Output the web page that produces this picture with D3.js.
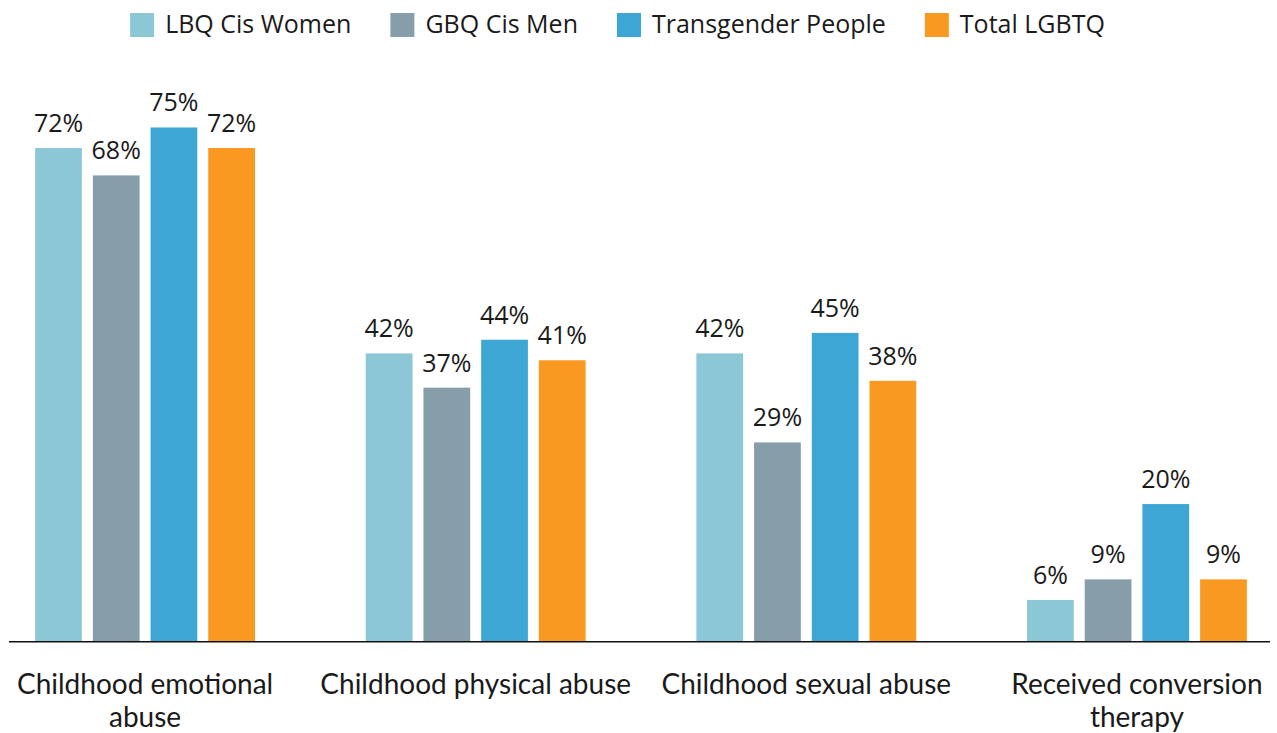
<!DOCTYPE html>
<html>
<head>
<meta charset="utf-8">
<script src="https://cdn.jsdelivr.net/npm/d3@7"></script>
<style>
  html, body { margin: 0; padding: 0; background: #fff; }
  svg { display: block; }
</style>
</head>
<body>
<svg id="chart" width="1277" height="733"></svg>
<script>
// Experiences reported, by group (percent)
const categories = [
  ["Childhood emotional", "abuse"],
  ["Childhood physical abuse"],
  ["Childhood sexual abuse"],
  ["Received conversion", "therapy"]
];
const seriesNames = ["LBQ Cis Women", "GBQ Cis Men", "Transgender People", "Total LGBTQ"];
const lbqCisWomen = [72, 42, 42, 6];
const gbqCisMen = [68, 37, 29, 9];
const transgenderPeople = [75, 44, 45, 20];
const totalLGBTQ = [72, 41, 38, 9];
const seriesColors = ["#8cc7d5", "#869daa", "#3da6d5", "#f99922"];

const seriesValues = [lbqCisWomen, gbqCisMen, transgenderPeople, totalLGBTQ];
const catKeys = categories.map(c => c.join(" "));

const svg = d3.select("#chart");
const baseY = 641;

const x0 = d3.scaleBand()
  .domain(catKeys)
  .range([11, 1271])
  .paddingInner(0.335)
  .paddingOuter(0.073);

const x1 = d3.scaleBand()
  .domain(seriesNames)
  .range([0, x0.bandwidth()])
  .paddingInner(0.19)
  .paddingOuter(0);

const y = d3.scaleLinear()
  .domain([0, 80])
  .range([baseY, baseY - 80 * 6.847]);

const color = d3.scaleOrdinal().domain(seriesNames).range(seriesColors);

// Bars and value labels
const groups = svg.selectAll("g.group")
  .data(catKeys)
  .join("g")
  .attr("class", "group")
  .attr("transform", d => `translate(${x0(d)},0)`);

groups.each(function(cat, ci) {
  const g = d3.select(this);
  const rows = seriesNames.map((s, si) => ({ s, v: seriesValues[si][ci] }));
  g.selectAll("rect")
    .data(rows)
    .join("rect")
    .attr("x", d => x1(d.s))
    .attr("y", d => y(d.v))
    .attr("width", x1.bandwidth())
    .attr("height", d => y(0) - y(d.v))
    .attr("fill", d => color(d.s));
  g.selectAll("text.val")
    .data(rows)
    .join("text")
    .attr("class", "val")
    .attr("x", d => x1(d.s) + x1.bandwidth() / 2)
    .attr("y", d => y(d.v) - 16)
    .attr("text-anchor", "middle")
    .attr("font-family", "'Open Sans', sans-serif")
    .attr("font-size", 25)
    .attr("fill", "#1a1a1a")
    .text(d => d.v + "%");
});

// Baseline
svg.append("line")
  .attr("x1", 9).attr("x2", 1270)
  .attr("y1", baseY + 0.75).attr("y2", baseY + 0.75)
  .attr("stroke", "#111")
  .attr("stroke-width", 1.5);

// Category labels, kept inside the left margin
categories.forEach((lines, ci) => {
  const cx = x0(catKeys[ci]) + x0.bandwidth() / 2;
  const t = svg.append("text")
    .attr("font-family", "Lato, sans-serif")
    .attr("font-size", 28)
    .attr("fill", "#1a1a1a")
    .attr("text-anchor", "middle");
  lines.forEach((ln, li) => {
    t.append("tspan").attr("x", cx).attr("y", 694 + li * 33).text(ln);
  });
  const bb = t.node().getBBox();
  if (bb.x < 13) {
    const shift = 13 - bb.x;
    t.selectAll("tspan").attr("x", cx + shift);
  }
});

// Legend
const legend = svg.append("g");
let lx = 0;
seriesNames.forEach((s, i) => {
  const item = legend.append("g").attr("transform", `translate(${lx},0)`);
  item.append("rect")
    .attr("x", 0).attr("y", 13)
    .attr("width", 24).attr("height", 24)
    .attr("fill", color(s));
  const tx = item.append("text")
    .attr("x", 35).attr("y", 33)
    .attr("font-family", "'Open Sans', sans-serif")
    .attr("font-size", 25)
    .attr("fill", "#1a1a1a")
    .text(s);
  lx += 35 + tx.node().getComputedTextLength() + 39;
});
const legendWidth = lx - 39;
legend.attr("transform", `translate(${617.5 - legendWidth / 2},0)`);
</script>
</body>
</html>
